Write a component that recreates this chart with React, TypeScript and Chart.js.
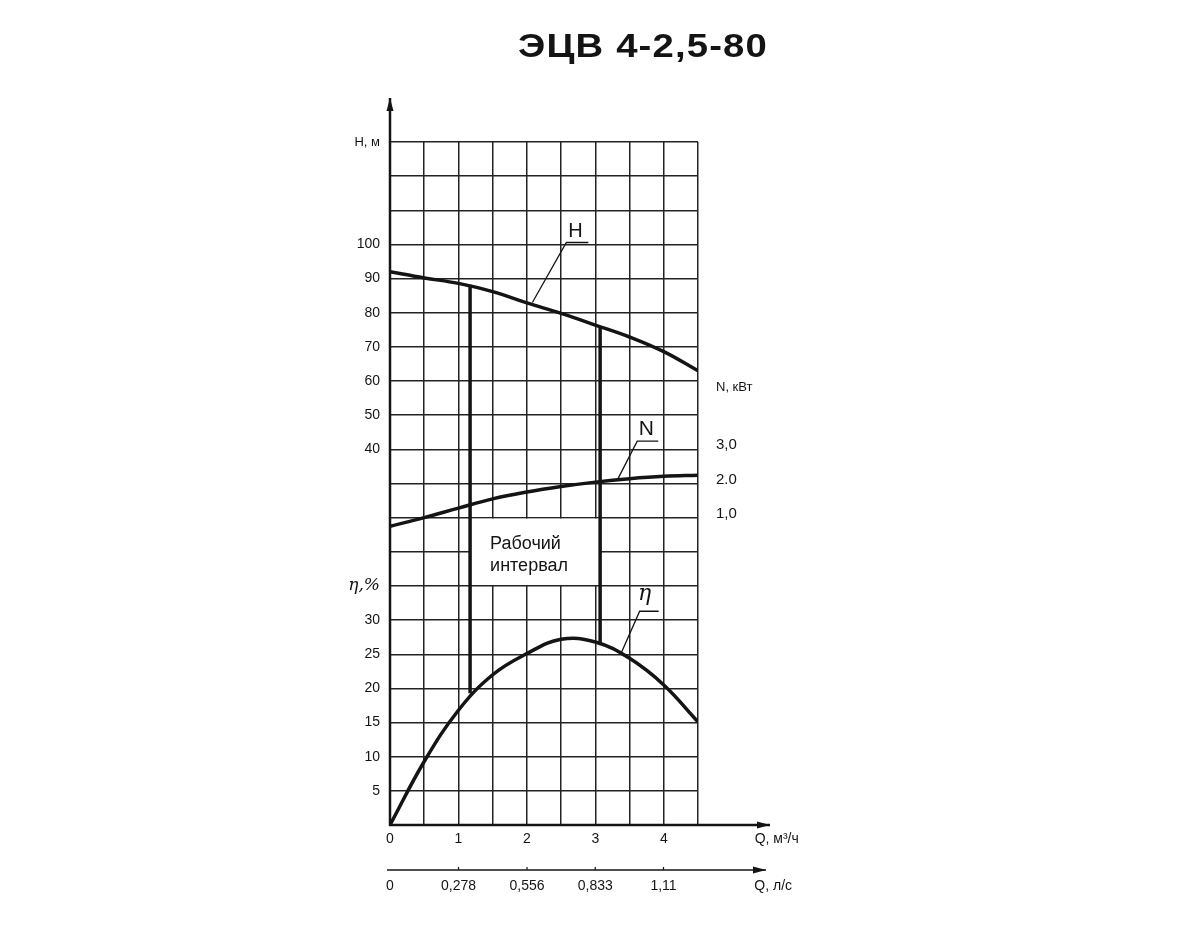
import React, { useEffect, useRef } from 'react';
import { Chart, registerables } from 'chart.js';

Chart.register(...registerables);

const TITLE = 'ЭЦВ 4-2,5-80';

// Flow, m³/h, and the three characteristic curves read at those flows
const flowM3h = [0, 0.5, 1.0, 1.5, 2.0, 2.5, 3.0, 3.5, 4.0, 4.5];
const headM = [92.0, 90.2, 88.6, 86.2, 82.9, 79.8, 76.4, 72.9, 68.6, 63.0];
const powerKW = [0.75, 1.0, 1.28, 1.55, 1.75, 1.91, 2.04, 2.14, 2.21, 2.24];
const efficiencyPct = [0, 9.3, 16.8, 22.0, 25.1, 27.2, 26.8, 24.4, 20.5, 15.1];

// Working interval borders
const workQ = [1.17, 3.07];
const workHead = [88.2, 75.9];
const workEta = [19.3, 26.6];
const workBoxHead = [0, 20]; // label box spans these head-grid values

// Axis ranges (all share the same 20-row grid)
const flowRange = [0, 4.5];
const flowLsRange = [0, 1.25];
const headRange = [-70, 130];
const etaRange = [0, 100];
const powerRange = [-8, 12];

// Tick labels
const flowTickLabels = [0, 1, 2, 3, 4];
const flowTitleAt = 5.65;
const flowLsTicks = [0, 0.278, 0.556, 0.833, 1.11];
const flowLsTickLabels = ['0', '0,278', '0,556', '0,833', '1,11'];
const flowLsTitleAt = 1.555;
const headTickLabels = [40, 50, 60, 70, 80, 90, 100];
const headTitleAt = 130;
const etaTickLabels = [5, 10, 15, 20, 25, 30];
const etaTitleAt = 35;
const powerTicks = [1, 2, 3];
const powerTickLabels = ['1,0', '2.0', '3,0'];
const powerTitleAt = 4.7;

const INK = '#141414';
const GRID = '#232323';
const SANS = '"Liberation Sans", Arial, Helvetica, sans-serif';

const etaFromHead = (h: number) =>
  etaRange[0] + ((h - headRange[0]) * (etaRange[1] - etaRange[0])) / (headRange[1] - headRange[0]);

function arrowLine(ctx: CanvasRenderingContext2D, x1: number, y1: number, x2: number, y2: number, w: number) {
  ctx.lineWidth = w;
  ctx.beginPath();
  ctx.moveTo(x1, y1);
  ctx.lineTo(x2, y2);
  ctx.stroke();
  const ang = Math.atan2(y2 - y1, x2 - x1);
  const len = 13;
  const half = 3.5;
  ctx.beginPath();
  ctx.moveTo(x2, y2);
  ctx.lineTo(x2 - len * Math.cos(ang) + half * Math.sin(ang), y2 - len * Math.sin(ang) - half * Math.cos(ang));
  ctx.lineTo(x2 - len * Math.cos(ang) - half * Math.sin(ang), y2 - len * Math.sin(ang) + half * Math.cos(ang));
  ctx.closePath();
  ctx.fill();
}

const annotations = [
  { text: 'H', axis: 'yH', q: 2.08, v: 83.0, dx: 34, dy: -60, ul: 22, font: `20px ${SANS}`, tx: 9, ty: -6 },
  { text: 'N', axis: 'yN', q: 3.32, v: 2.1, dx: 20, dy: -39, ul: 21, font: `21px ${SANS}`, tx: 9, ty: -6 },
  { text: 'η', axis: 'yEta', q: 3.37, v: 25.0, dx: 19, dy: -43, ul: 19, font: `italic 22px "DejaVu Serif", serif`, tx: 5, ty: -11 },
];

export default function App() {
  const ref = useRef<HTMLCanvasElement>(null);

  useEffect(() => {
    const canvas = ref.current;
    if (!canvas) return;

    const pts = (ys: number[]) => flowM3h.map((q, i) => ({ x: q, y: ys[i] }));
    const curve = (label: string, ys: number[], axis: string) => ({
      label,
      data: pts(ys),
      yAxisID: axis,
      xAxisID: 'x',
      borderColor: INK,
      borderWidth: 3.5,
      pointRadius: 0,
      fill: false,
      tension: 0.4,
      borderJoinStyle: 'round' as const,
    });

    const decor = {
      id: 'decor',
      beforeDatasetsDraw(chart: any) {
        const { ctx, scales } = chart;
        const left = scales.x.getPixelForValue(workQ[0]);
        const right = scales.x.getPixelForValue(workQ[1]);
        const top = scales.yH.getPixelForValue(workBoxHead[1]);
        const bottom = scales.yH.getPixelForValue(workBoxHead[0]);
        ctx.save();
        ctx.fillStyle = '#ffffff';
        ctx.fillRect(left, top + 1, right - left, bottom - top - 2);
        ctx.fillStyle = INK;
        ctx.font = `18px ${SANS}`;
        ctx.textAlign = 'left';
        ctx.textBaseline = 'alphabetic';
        ctx.fillText('Рабочий', left + 20, top + 31);
        ctx.fillText('интервал', left + 20, top + 53);
        ctx.restore();
      },
      afterDatasetsDraw(chart: any) {
        const { ctx, chartArea: ca, scales } = chart;
        ctx.save();
        ctx.strokeStyle = INK;
        ctx.fillStyle = INK;
        // working interval verticals
        workQ.forEach((q, i) => {
          const px = scales.x.getPixelForValue(q);
          ctx.lineWidth = 3.5;
          ctx.beginPath();
          ctx.moveTo(px, scales.yH.getPixelForValue(workHead[i]));
          ctx.lineTo(px, scales.yEta.getPixelForValue(workEta[i]));
          ctx.stroke();
        });
        // axes with arrows
        arrowLine(ctx, ca.left, ca.bottom + 1, ca.left, ca.top - 44, 2.5);
        arrowLine(ctx, ca.left - 1, ca.bottom, ca.right + 72, ca.bottom, 2.5);
        const x2 = scales.x2;
        arrowLine(ctx, ca.left - 3, x2.top, ca.right + 68, x2.top, 1.6);
        ctx.lineWidth = 1.2;
        flowLsTicks.slice(1).forEach((v) => {
          const px = x2.getPixelForValue(v);
          ctx.beginPath();
          ctx.moveTo(px, x2.top);
          ctx.lineTo(px, x2.top - 3);
          ctx.stroke();
        });
        // leader labels
        annotations.forEach((a) => {
          const ax = scales.x.getPixelForValue(a.q);
          const ay = scales[a.axis].getPixelForValue(a.v);
          const ex = ax + a.dx;
          const ey = ay + a.dy;
          ctx.lineWidth = 1.3;
          ctx.beginPath();
          ctx.moveTo(ax, ay);
          ctx.lineTo(ex, ey);
          ctx.lineTo(ex + a.ul, ey);
          ctx.stroke();
          ctx.font = a.font;
          ctx.textAlign = 'center';
          ctx.textBaseline = 'alphabetic';
          ctx.fillText(a.text, ex + a.tx, ey + a.ty);
        });
        ctx.restore();
      },
    };

    const tickFont = { family: SANS, size: 14 };

    const chart = new Chart(canvas, {
      type: 'line',
      data: {
        datasets: [
          curve('H', headM, 'yH'),
          curve('N', powerKW, 'yN'),
          curve('η', efficiencyPct, 'yEta'),
        ],
      },
      options: {
        animation: false,
        responsive: false,
        devicePixelRatio: 1,
        layout: { padding: { top: 142, left: 0, right: 0, bottom: 0 } },
        plugins: { legend: { display: false }, tooltip: { enabled: false } },
        scales: {
          x: {
            type: 'linear',
            position: 'bottom',
            min: flowRange[0],
            max: flowRange[1],
            afterBuildTicks: (s: any) => {
              s.ticks.push({ value: flowTitleAt });
            },
            afterFit: (s: any) => {
              s.height = 45;
            },
            ticks: {
              stepSize: 0.5,
              autoSkip: false,
              maxRotation: 0,
              padding: 6,
              color: INK,
              font: tickFont,
              callback: (v: any) => {
                if (v === flowTitleAt) return 'Q, м³/ч';
                return flowTickLabels.includes(v) ? String(v) : '';
              },
            },
            grid: {
              color: (c: any) => (c.tick && c.tick.value > flowRange[1] ? 'rgba(0,0,0,0)' : GRID),
              lineWidth: 1.5,
              drawTicks: false,
            },
            border: { display: false },
          },
          x2: {
            type: 'linear',
            position: 'bottom',
            weight: 1,
            min: flowLsRange[0],
            max: flowLsRange[1],
            afterBuildTicks: (s: any) => {
              s.ticks = [...flowLsTicks, flowLsTitleAt].map((value) => ({ value }));
            },
            afterFit: (s: any) => {
              s.height = 80;
            },
            ticks: {
              autoSkip: false,
              maxRotation: 0,
              padding: 8,
              color: INK,
              font: tickFont,
              callback: (_v: any, i: number) => (i < flowLsTickLabels.length ? flowLsTickLabels[i] : 'Q, л/с'),
            },
            grid: { display: false, drawTicks: false },
            border: { display: false },
          },
          yH: {
            type: 'linear',
            position: 'left',
            min: headRange[0],
            max: headRange[1],
            afterFit: (s: any) => {
              s.width = 390;
            },
            ticks: {
              stepSize: 10,
              autoSkip: false,
              padding: 10,
              color: INK,
              font: (c: any) =>
                c.tick && Math.round(etaFromHead(c.tick.value)) === etaTitleAt
                  ? { family: '"DejaVu Serif", serif', size: 17, style: 'italic' as const }
                  : c.tick && c.tick.value === headTitleAt
                  ? { family: SANS, size: 13 }
                  : tickFont,
              callback: (v: any) => {
                if (v === headTitleAt) return 'H, м';
                if (headTickLabels.includes(v)) return String(v);
                const eta = Math.round(etaFromHead(v) * 100) / 100;
                if (etaTickLabels.includes(eta)) return String(eta);
                if (eta === etaTitleAt) return 'η,%';
                return '';
              },
            },
            grid: { color: GRID, lineWidth: 1.5, drawTicks: false },
            border: { display: false },
          },
          yEta: {
            type: 'linear',
            position: 'left',
            display: false,
            min: etaRange[0],
            max: etaRange[1],
          },
          yN: {
            type: 'linear',
            position: 'right',
            min: powerRange[0],
            max: powerRange[1],
            afterBuildTicks: (s: any) => {
              s.ticks = [...powerTicks, powerTitleAt].map((value) => ({ value }));
            },
            afterFit: (s: any) => {
              s.width = 502;
            },
            ticks: {
              autoSkip: false,
              padding: 18,
              labelOffset: -4,
              color: INK,
              font: (c: any) => (c.tick && c.tick.value === powerTitleAt ? { family: SANS, size: 13 } : { family: SANS, size: 15 }),
              callback: (_v: any, i: number) => (i < powerTickLabels.length ? powerTickLabels[i] : 'N, кВт'),
            },
            grid: { display: false, drawTicks: false },
            border: { display: false },
          },
        },
      },
      plugins: [decor],
    } as any);

    return () => chart.destroy();
  }, []);

  return (
    <div style={{ position: 'fixed', left: 0, top: 0, width: 1200, height: 950, background: '#ffffff' }}>
      <canvas
        ref={ref}
        width={1200}
        height={950}
        style={{ position: 'absolute', left: 0, top: 0, width: 1200, height: 950 }}
      />
      <div
        style={{
          position: 'absolute',
          left: 643,
          top: 29,
          transform: 'translateX(-50%) scaleX(1.16)',
          font: `bold 33px ${SANS}`,
          lineHeight: '33px',
          letterSpacing: '1px',
          whiteSpace: 'nowrap',
          color: INK,
        }}
      >
        {TITLE}
      </div>
    </div>
  );
}
